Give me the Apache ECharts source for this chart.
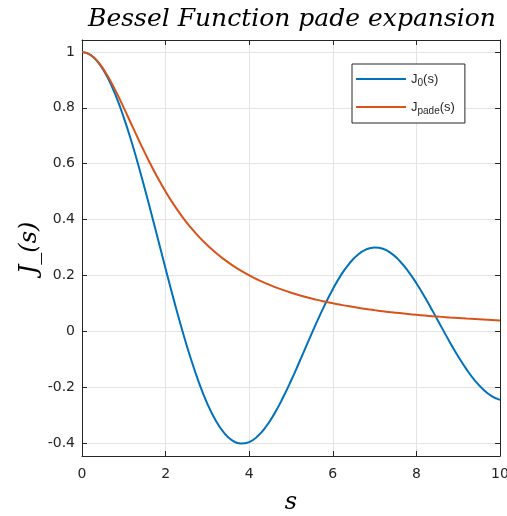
<!DOCTYPE html>
<html>
<head>
<meta charset="utf-8">
<script src="https://cdn.jsdelivr.net/npm/echarts@6/dist/echarts.min.js"></script>
<style>html,body{margin:0;padding:0;background:#fff}#c{width:507px;height:516px}</style>
</head>
<body>
<div id="c"></div>
<script>
var sValues = [0,0.2,0.4,0.6,0.8,1.0,1.2,1.4,1.6,1.8,2.0,2.2,2.4,2.6,2.8,3.0,3.2,3.4,3.6,3.8,4.0,4.2,4.4,4.6,4.8,5.0,5.2,5.4,5.6,5.8,6.0,6.2,6.4,6.6,6.8,7.0,7.2,7.4,7.6,7.8,8.0,8.2,8.4,8.6,8.8,9.0,9.2,9.4,9.6,9.8,10.0];
var j0Values = [1.0000,0.9900,0.9604,0.9120,0.8463,0.7652,0.6711,0.5669,0.4554,0.3400,0.2239,0.1104,0.0025,-0.0968,-0.1850,-0.2601,-0.3202,-0.3643,-0.3918,-0.4026,-0.3971,-0.3766,-0.3423,-0.2961,-0.2404,-0.1776,-0.1103,-0.0412,0.0270,0.0917,0.1506,0.2017,0.2433,0.2740,0.2931,0.3001,0.2951,0.2786,0.2516,0.2154,0.1717,0.1222,0.0692,0.0146,-0.0392,-0.0903,-0.1367,-0.1768,-0.2090,-0.2323,-0.2459];
var padeValues = [1.0000,0.9901,0.9615,0.9174,0.8621,0.8000,0.7353,0.6711,0.6098,0.5525,0.5000,0.4525,0.4098,0.3717,0.3378,0.3077,0.2809,0.2571,0.2358,0.2169,0.2000,0.1848,0.1712,0.1590,0.1479,0.1379,0.1289,0.1206,0.1131,0.1063,0.1000,0.0943,0.0890,0.0841,0.0796,0.0755,0.0716,0.0681,0.0648,0.0617,0.0588,0.0561,0.0536,0.0513,0.0491,0.0471,0.0451,0.0433,0.0416,0.0400,0.0385];
var xTicks = [0,2,4,6,8,10];
var yTicks = [-0.4,-0.2,0,0.2,0.4,0.6,0.8,1];
var seriesNames = ['J0', 'Jpade'];

function pairs(ys){ return sValues.map(function(s,i){ return [s, ys[i]]; }); }

var axisColor = '#262626';
var gridColor = '#e3e3e3';
var tickFont = 'DejaVu Sans';
var yMin = -0.447, yMax = 1.043;
var plotTop = 40, plotBottom = 456, H = 516;
var pxPerUnit = (plotBottom - plotTop) / (yMax - yMin);
var tickGridTop = plotTop + (yMax - yTicks[yTicks.length-1]) * pxPerUnit;
var tickGridBottom = H - (plotBottom - (yTicks[0] - yMin) * pxPerUnit);

var chart = echarts.init(document.getElementById('c'));
chart.setOption({
  animation: false,
  title: {
    text: 'Bessel Function pade expansion',
    left: 287, top: 2, textAlign: 'center',
    textStyle: {fontFamily: 'DejaVu Serif', fontStyle: 'italic', fontWeight: 'normal', fontSize: 25, color: '#000'}
  },
  grid: [
    {left: 82, right: 7, top: plotTop, bottom: H - plotBottom, containLabel: false, outerBoundsMode: 'none'},
    {left: 82, right: 7, top: tickGridTop, bottom: tickGridBottom, containLabel: false, outerBoundsMode: 'none'}
  ],
  xAxis: [{
    type: 'value', gridIndex: 0, min: 0, max: 10, interval: 2,
    name: 's', nameLocation: 'middle', nameGap: 35,
    nameTextStyle: {fontFamily: 'DejaVu Serif', fontStyle: 'italic', fontSize: 24, color: '#000'},
    axisLine: {show: true, onZero: false, lineStyle: {color: axisColor, width: 1}},
    axisTick: {show: true, inside: true, length: 5, lineStyle: {color: axisColor}},
    axisLabel: {color: axisColor, fontSize: 14, margin: 11, fontFamily: tickFont,
      formatter: function(v){ return xTicks.indexOf(v) >= 0 ? String(v) : ''; }},
    splitLine: {show: true, lineStyle: {color: gridColor, width: 1}}
  }, {
    type: 'value', gridIndex: 0, min: 0, max: 10, interval: 2, position: 'top',
    axisLine: {show: true, onZero: false, lineStyle: {color: axisColor, width: 1}},
    axisTick: {show: true, inside: true, length: 5, lineStyle: {color: axisColor}},
    axisLabel: {show: false}, splitLine: {show: false}
  }, {
    type: 'value', gridIndex: 1, min: 0, max: 10, show: false
  }],
  yAxis: [{
    type: 'value', gridIndex: 0, min: yMin, max: yMax,
    name: 'J_(s)', nameLocation: 'middle', nameGap: 40,
    nameTextStyle: {fontFamily: 'DejaVu Serif', fontStyle: 'italic', fontSize: 24, color: '#000'},
    axisLine: {show: true, onZero: false, lineStyle: {color: axisColor, width: 1}},
    axisTick: {show: false}, axisLabel: {show: false}, splitLine: {show: false}
  }, {
    type: 'value', gridIndex: 0, min: yMin, max: yMax, position: 'right',
    axisLine: {show: true, onZero: false, lineStyle: {color: axisColor, width: 1}},
    axisTick: {show: false}, axisLabel: {show: false}, splitLine: {show: false}
  }, {
    type: 'value', gridIndex: 1, min: -0.4, max: 1, interval: 0.2, position: 'left',
    axisLine: {show: false},
    axisTick: {show: true, inside: true, length: 5, lineStyle: {color: axisColor}},
    axisLabel: {show: true, color: axisColor, fontSize: 14, margin: 7, fontFamily: tickFont,
      formatter: function(v){ var r = Math.round(v*10)/10; return yTicks.indexOf(r) >= 0 ? String(r) : ''; }},
    splitLine: {show: true, lineStyle: {color: gridColor, width: 1}}
  }, {
    type: 'value', gridIndex: 1, min: -0.4, max: 1, interval: 0.2, position: 'right',
    axisLine: {show: false},
    axisTick: {show: true, inside: true, length: 5, lineStyle: {color: axisColor}},
    axisLabel: {show: false}, splitLine: {show: false}
  }],
  legend: {
    show: true, orient: 'vertical', left: 352, top: 64,
    data: seriesNames, icon: 'rect',
    backgroundColor: '#fff', borderColor: axisColor, borderWidth: 1,
    padding: [6, 10, 7, 4], itemGap: 10, itemWidth: 50, itemHeight: 2,
    formatter: function(n){ return n === 'J0' ? '{b|J}{sub|0}{b|(s)}' : '{b|J}{sub|pade}{b|(s)}'; },
    textStyle: {
      color: axisColor, fontFamily: 'Liberation Sans',
      rich: {
        b: {fontSize: 13, color: axisColor, lineHeight: 18, verticalAlign: 'middle', fontFamily: 'Liberation Sans'},
        sub: {fontSize: 10, color: axisColor, lineHeight: 18, verticalAlign: 'bottom', padding: [8, 0, 0, 0], fontFamily: 'Liberation Sans'}
      }
    }
  },
  series: [
    {name: 'J0', type: 'line', xAxisIndex: 0, yAxisIndex: 0, data: pairs(j0Values), smooth: true, symbol: 'none',
      lineStyle: {color: '#0072BD', width: 2}, itemStyle: {color: '#0072BD'}, z: 3},
    {name: 'Jpade', type: 'line', xAxisIndex: 0, yAxisIndex: 0, data: pairs(padeValues), smooth: true, symbol: 'none',
      lineStyle: {color: '#D95319', width: 2}, itemStyle: {color: '#D95319'}, z: 4}
  ]
});
</script>
</body>
</html>
